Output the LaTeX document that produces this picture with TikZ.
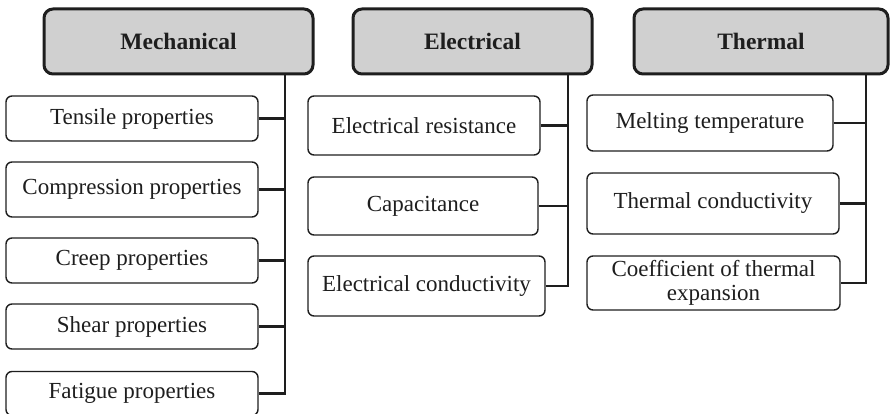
\documentclass[tikz,border=0pt]{standalone}
\usepackage{fontspec}
\setmainfont{Liberation Serif}
\definecolor{hdrgray}{RGB}{208,208,208}
\definecolor{ink}{RGB}{30,30,30}
\tikzset{
  hdr/.style={draw=ink, line width=3pt, fill=hdrgray, rounded corners=9pt,
    inner sep=0pt, anchor=center, text=ink,
    font=\fontsize{23.5}{27}\selectfont\bfseries},
  leaf/.style={draw=ink, line width=1.4pt, fill=white, rounded corners=6pt,
    inner sep=0pt, anchor=center, align=center, text=ink,
    font=\fontsize{23}{24}\selectfont},
  conn/.style={draw=ink, line width=2.3pt}
}
\begin{document}
\begin{tikzpicture}[x=1pt,y=-1pt]
\useasboundingbox (0,0) rectangle (890,414);
% headers
\node[hdr, minimum width=269pt, minimum height=65pt] (mech) at (178.5,41.5) {Mechanical};
\node[hdr, minimum width=239pt, minimum height=65pt] (elec) at (472.5,41.5) {Electrical};
\node[hdr, minimum width=254pt, minimum height=65pt] (ther) at (761,41.5) {Thermal};
% mechanical children
\node[leaf, minimum width=252pt, minimum height=45pt] (ten) at (132,118.5) {Tensile properties};
\node[leaf, minimum width=252pt, minimum height=55pt] (com) at (132,189.5) {Compression properties};
\node[leaf, minimum width=252pt, minimum height=45pt] (cre) at (132,260.5) {Creep properties};
\node[leaf, minimum width=252pt, minimum height=45pt] (she) at (132,326.5) {Shear properties};
\node[leaf, minimum width=252pt, minimum height=44pt] (fat) at (132,393.5) {Fatigue properties};
% electrical children
\node[leaf, minimum width=232pt, minimum height=59pt] (res) at (424,125.5) {Electrical resistance};
\node[leaf, minimum width=230pt, minimum height=58pt] (cap) at (423,206) {Capacitance};
\node[leaf, minimum width=237pt, minimum height=60pt] (eco) at (426.5,286) {Electrical conductivity};
% thermal children
\node[leaf, minimum width=246pt, minimum height=56pt] (mel) at (710,123) {Melting temperature};
\node[leaf, minimum width=252pt, minimum height=61pt] (tco) at (713,203.5) {Thermal conductivity};
\node[leaf, minimum width=253pt, minimum height=54pt] (cte) at (713.5,283) {Coefficient of thermal\\expansion};
% bus coordinates
\coordinate (mb) at (285,74);
\coordinate (eb) at (568,74);
\coordinate (tb) at (866,74);
% connectors
\draw[conn] (mb) |- (fat.east);
\foreach \n in {ten,com,cre,she} \draw[conn] (\n.east) -- (\n.east -| mb);
\draw[conn] (eb) |- (eco.east);
\foreach \n in {res,cap} \draw[conn] (\n.east) -- (\n.east -| eb);
\draw[conn] (tb) |- (cte.east);
\foreach \n in {mel,tco} \draw[conn] (\n.east) -- (\n.east -| tb);
\end{tikzpicture}
\end{document}
